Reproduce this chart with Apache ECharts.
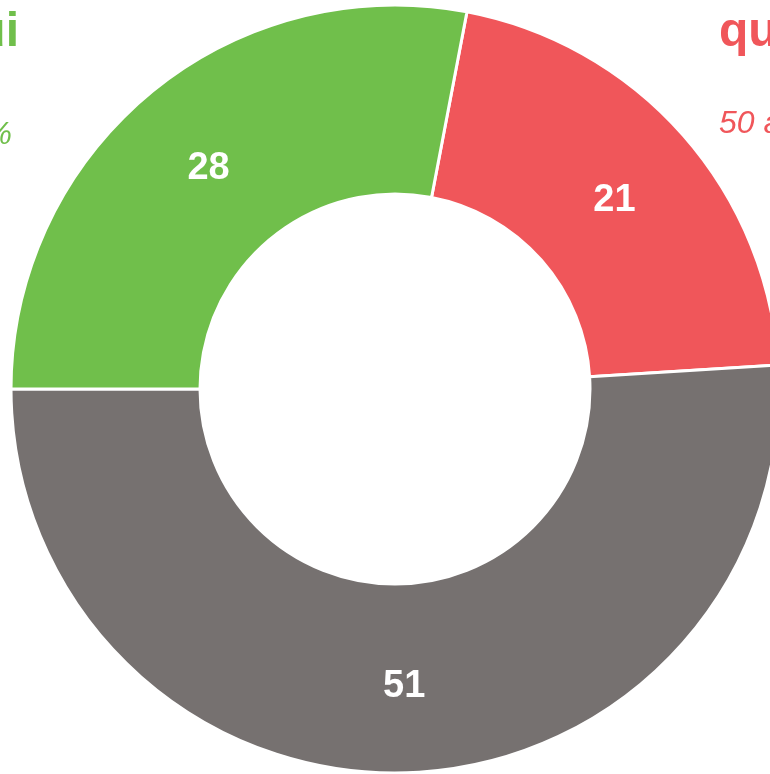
<!DOCTYPE html>
<html>
<head>
<meta charset="utf-8">
<script src="https://cdn.jsdelivr.net/npm/echarts@6/dist/echarts.min.js"></script>
<style>
  html, body { margin: 0; padding: 0; background: #fff; }
  #chart { width: 770px; height: 774px; }
</style>
</head>
<body>
<div id="chart"></div>
<script>
// valeurs
const categories = ['rouge', 'gris', 'vert'];
const values = [21, 51, 28];
const colors = ['#f0565a', '#767170', '#70bf4b'];

const chart = echarts.init(document.getElementById('chart'));

const option = {
  animation: false,
  graphic: [
    // textes coupés au bord du cadre
    { type: 'text', right: 751, top: 9, style: { text: 'ui', fill: '#70bf4b', font: 'bold 48px "Liberation Sans", Arial', textAlign: 'right' } },
    { type: 'text', right: 758, top: 119, style: { text: '%', fill: '#70bf4b', font: 'italic 32px "Liberation Sans", Arial', textAlign: 'right' } },
    { type: 'text', left: 719, top: 9, style: { text: 'qu', fill: '#f0565a', font: 'bold 48px "Liberation Sans", Arial' } },
    { type: 'text', left: 719, top: 108, style: { text: '50 a', fill: '#f0565a', font: 'italic 32px "Liberation Sans", Arial' } }
  ],
  series: [{
    type: 'pie',
    center: [395, 389],
    radius: [195, 384],
    startAngle: 79.2,
    clockwise: true,
    itemStyle: { borderColor: '#fff', borderWidth: 3 },
    label: {
      position: 'inside',
      formatter: '{c}',
      color: '#fff',
      fontSize: 38,
      fontWeight: 'bold',
      fontFamily: '"Liberation Sans", Arial',
      offset: [0, 5]
    },
    labelLine: { show: false },
    data: categories.map((name, i) => ({
      name,
      value: values[i],
      itemStyle: { color: colors[i] }
    }))
  }]
};

chart.setOption(option);
</script>
</body>
</html>
